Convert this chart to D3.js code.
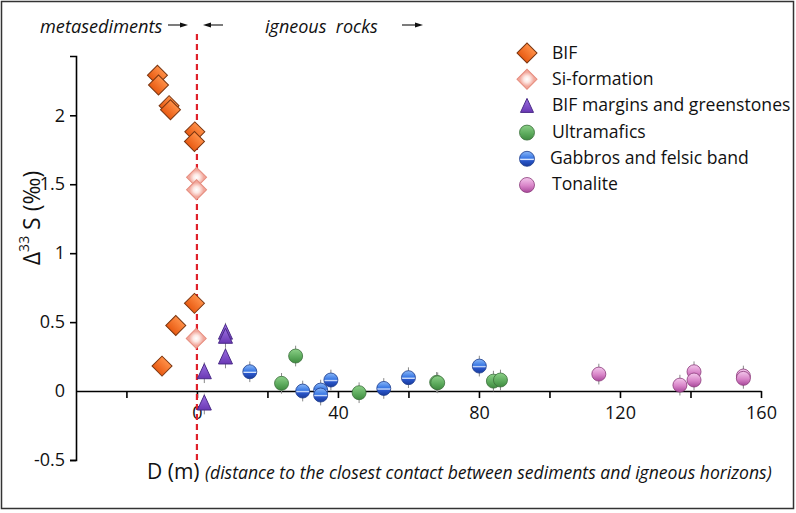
<!DOCTYPE html>
<html><head><meta charset="utf-8">
<script src="https://cdn.jsdelivr.net/npm/d3@7"></script>
<style>body{margin:0;background:#fff}svg{display:block}text{font-family:"Open Sans",sans-serif}</style>
</head><body><svg id="c" width="796" height="513"></svg>
<script>
// ---- data ----
const bifX = [-11.2, -10.9, -7.9, -7.5, -0.6, -0.7, -0.7, -6.0, -9.9];
const bifY = [2.29, 2.22, 2.07, 2.04, 1.88, 1.81, 0.636, 0.476, 0.181];
const siX = [-0.1, -0.1, -0.2];
const siY = [1.55, 1.46, 0.382];
const triX = [8.1, 8.1, 8.1, 2.1, 2.1];
const triY = [0.42, 0.39, 0.24, 0.133, -0.094];
const ultraX = [24.0, 28.0, 46.0, 68.0, 68.3, 84.1, 86.1];
const ultraY = [0.056, 0.254, -0.012, 0.063, 0.06, 0.072, 0.08];
const gabX = [15.0, 30.0, 35.1, 35.1, 38.0, 53.0, 60.0, 80.1];
const gabY = [0.14, 0.0, 0.007, -0.029, 0.08, 0.019, 0.097, 0.181];
const tonX = [114.0, 137.0, 141.0, 141.0, 155.0, 155.0];
const tonY = [0.123, 0.043, 0.14, 0.08, 0.109, 0.092];
const errBar = 0.075;
const legendLabels = ["BIF", "Si-formation", "BIF margins and greenstones", "Ultramafics", "Gabbros and felsic band", "Tonalite"];
const xTicks = [-20, 0, 20, 40, 60, 80, 100, 120, 140, 160];
const xTickLabels = [0, 40, 80, 120, 160];
const yTicks = [-0.5, 0, 0.5, 1, 1.5, 2];

const svg = d3.select("#c");
const defs = svg.append("defs");
function lin(id, stops){
  const g = defs.append("linearGradient").attr("id", id).attr("x1",0).attr("y1",0).attr("x2",0).attr("y2",1);
  stops.forEach(s => g.append("stop").attr("offset", s[0]).attr("stop-color", s[1]));
}
function rad(id, stops){
  const g = defs.append("radialGradient").attr("id", id).attr("cx",0.5).attr("cy",0.5).attr("r",0.5);
  stops.forEach(s => g.append("stop").attr("offset", s[0]).attr("stop-color", s[1]));
}
lin("gBif", [[0,"#ff9048"],[1,"#e85a12"]]);
rad("gSi", [[0,"#ffffff"],[0.45,"#fde8e4"],[1,"#f2a89c"]]);
lin("gTri", [[0,"#9a6ee0"],[1,"#6a38b4"]]);
lin("gUl", [[0,"#8cd088"],[0.6,"#5aa85a"],[1,"#3f8a40"]]);
lin("gGab", [[0,"#8ab8f8"],[0.45,"#3a78e4"],[0.55,"#dce8ff"],[0.62,"#2a58cc"],[1,"#183a9c"]]);
lin("gTon", [[0,"#f4c8ec"],[0.55,"#d884c8"],[1,"#a8489a"]]);

// frame
svg.append("rect").attr("x",1.5).attr("y",1.5).attr("width",792).attr("height",507)
  .attr("fill","none").attr("stroke","#333").attr("stroke-width",1.5);

const x = d3.scaleLinear().domain([-34.3, 160]).range([76, 761]);
const y = d3.scaleLinear().domain([-0.5, 2.43]).range([460, 56]);

// x axis
const xAxis = d3.axisBottom(x).tickValues(xTicks).tickSize(7).tickSizeOuter(0)
  .tickFormat(d => xTickLabels.includes(d) ? d : "");
const gx = svg.append("g").attr("transform", `translate(0,${y(0)})`).call(xAxis);
gx.select(".domain").attr("stroke","#000").attr("stroke-width",1.6);
gx.selectAll(".tick line").attr("stroke","#000").attr("stroke-width",1.6);
gx.selectAll(".tick text").attr("font-size",18).attr("fill","#111").attr("dy","1.0em");

// y axis
const yAxis = d3.axisLeft(y).tickValues(yTicks).tickSize(6).tickSizeOuter(6).tickFormat(d => d);
const gy = svg.append("g").attr("transform", `translate(76,0)`).call(yAxis);
gy.select(".domain").attr("stroke","#000").attr("stroke-width",1.6);
gy.selectAll(".tick line").attr("stroke","#000").attr("stroke-width",1.6)
  .attr("opacity", d => d === 0 ? 0 : 1);
gy.selectAll(".tick text").attr("font-size",18).attr("fill","#111").attr("x",-11);

// y label
const yl = svg.append("text").attr("transform", `translate(40,218) rotate(-90)`)
  .attr("text-anchor","middle").attr("font-size",23).attr("fill","#111");
yl.append("tspan").text("\u0394");
yl.append("tspan").attr("font-size",14).attr("dy",-11).text("33");
yl.append("tspan").attr("dy",11).text(" S (\u2030)");

// x label
const xl = svg.append("text").attr("x",147).attr("y",479).attr("fill","#111");
xl.append("tspan").attr("font-size",21).text("D (m) ");
xl.append("tspan").attr("font-size",17.6).attr("font-style","italic")
  .text("(distance to the closest contact between sediments and igneous horizons)");

// dashed contact line
svg.append("line").attr("x1",x(0)).attr("x2",x(0)).attr("y1",34).attr("y2",462)
  .attr("stroke","#e0202a").attr("stroke-width",2.2).attr("stroke-dasharray","6,4");

// top annotations
svg.append("text").attr("x",40).attr("y",33).attr("font-size",18.2).attr("font-style","italic").attr("fill","#111").text("metasediments");
svg.append("text").attr("x",265).attr("y",33).attr("font-size",18).attr("font-style","italic").attr("fill","#111").attr("xml:space","preserve").text("igneous  rocks");
function arrow(x0, x1, yy){
  const dir = Math.sign(x1 - x0);
  svg.append("line").attr("x1",x0).attr("x2",x1 - dir*6).attr("y1",yy).attr("y2",yy).attr("stroke","#111").attr("stroke-width",1.1);
  svg.append("path").attr("d",`M${x1},${yy}L${x1-dir*8},${yy-2.5}L${x1-dir*8},${yy+2.5}Z`).attr("fill","#111");
}
arrow(168, 188, 25);
arrow(223, 203, 25);
arrow(402, 423, 25);

// markers
const diamond = d3.symbol().type(d3.symbolSquare).size(200)();
function errorBars(xs, ys){
  svg.append("g").selectAll("line").data(xs.map((d,i)=>[d, ys[i]])).join("line")
    .attr("x1", d => x(d[0])).attr("x2", d => x(d[0]))
    .attr("y1", d => y(d[1] + errBar)).attr("y2", d => y(d[1] - errBar))
    .attr("stroke","#888").attr("stroke-width",1);
}
function diamonds(xs, ys, fill, stroke){
  svg.append("g").selectAll("path").data(xs.map((d,i)=>[d, ys[i]])).join("path")
    .attr("d", diamond)
    .attr("transform", d => `translate(${x(d[0])},${y(d[1])}) rotate(45)`)
    .attr("fill", fill).attr("stroke", stroke).attr("stroke-width",1);
}
function triangles(xs, ys){
  errorBars(xs, ys);
  svg.append("g").selectAll("path").data(xs.map((d,i)=>[d, ys[i]])).join("path")
    .attr("d", "M0,-9L7,6L-7,6Z")
    .attr("transform", d => `translate(${x(d[0])},${y(d[1])})`)
    .attr("fill","url(#gTri)").attr("stroke","#4a2a88").attr("stroke-width",1);
}
function circles(xs, ys, fill, stroke){
  errorBars(xs, ys);
  svg.append("g").selectAll("circle").data(xs.map((d,i)=>[d, ys[i]])).join("circle")
    .attr("cx", d => x(d[0])).attr("cy", d => y(d[1])).attr("r",7)
    .attr("fill", fill).attr("stroke", stroke).attr("stroke-width",0.8);
}
diamonds(siX, siY, "url(#gSi)", "#e58c7e");
diamonds(bifX, bifY, "url(#gBif)", "#7a3510");
triangles(triX, triY);
circles(ultraX, ultraY, "url(#gUl)", "#3a6e3a");
circles(gabX, gabY, "url(#gGab)", "#1b3a8a");
circles(tonX, tonY, "url(#gTon)", "#8a3a7a");

// legend
const lg = svg.append("g");
const rowY = d3.range(legendLabels.length).map(i => 53 + i * 26.2);
legendLabels.forEach((lab, i) => {
  const cy = rowY[i], cx = 527;
  if (i === 0) lg.append("path").attr("d", diamond).attr("transform",`translate(${cx},${cy}) rotate(45)`).attr("fill","url(#gBif)").attr("stroke","#7a3510");
  else if (i === 1) lg.append("path").attr("d", diamond).attr("transform",`translate(${cx},${cy}) rotate(45)`).attr("fill","url(#gSi)").attr("stroke","#e58c7e");
  else if (i === 2) lg.append("path").attr("d","M0,-8L6.5,6L-6.5,6Z").attr("transform",`translate(${cx},${cy+1})`).attr("fill","url(#gTri)").attr("stroke","#4a2a88");
  else {
    const f = ["url(#gUl)","url(#gGab)","url(#gTon)"][i-3], s = ["#3a6e3a","#1b3a8a","#8a3a7a"][i-3];
    lg.append("circle").attr("cx",cx).attr("cy",cy+1).attr("r",7.5).attr("fill",f).attr("stroke",s).attr("stroke-width",0.8);
  }
  lg.append("text").attr("x", i === 4 ? 550 : 552).attr("y", cy + 6).attr("font-size",17.6).attr("fill","#111").text(lab);
});
</script></body></html>
